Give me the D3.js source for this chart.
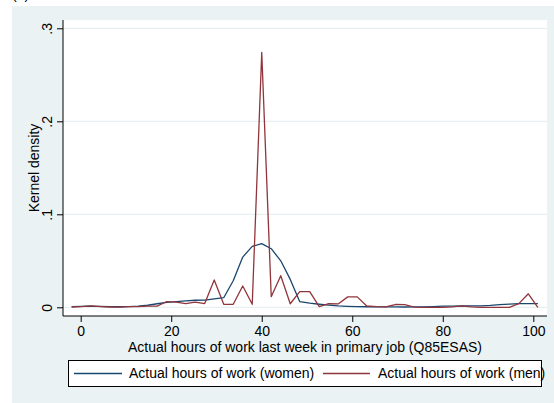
<!DOCTYPE html>
<html>
<head>
<meta charset="utf-8">
<script src="https://cdn.jsdelivr.net/npm/d3@7"></script>
<style>
  html, body { margin: 0; padding: 0; background: #ffffff; }
  svg { display: block; font-family: "Liberation Sans", Arial, sans-serif; }
</style>
</head>
<body>
<svg id="chart" width="554" height="403"></svg>
<script>
// Kernel density estimates of actual weekly hours, evaluated on a 50-point grid
const hours = [
  -2.0, 0.1, 2.2, 4.3, 6.4, 8.5, 10.6, 12.7, 14.8, 16.9,
  19.0, 21.1, 23.2, 25.3, 27.4, 29.5, 31.6, 33.7, 35.8, 37.9,
  40.0, 42.1, 44.2, 46.3, 48.4, 50.6, 52.7, 54.8, 56.9, 59.0,
  61.1, 63.2, 65.3, 67.4, 69.5, 71.6, 73.7, 75.8, 77.9, 80.0,
  82.1, 84.2, 86.3, 88.4, 90.5, 92.6, 94.7, 96.8, 98.9, 101.0
];
const densityWomen = [
  0.0007, 0.0009, 0.0012, 0.0010, 0.0007, 0.0006, 0.0008, 0.0012, 0.0022, 0.0038,
  0.0052, 0.0062, 0.0070, 0.0076, 0.0078, 0.0090, 0.0103, 0.0285, 0.0540, 0.0655,
  0.0685, 0.0630, 0.0500, 0.0300, 0.0060, 0.0045, 0.0033, 0.0023, 0.0015, 0.0010,
  0.0007, 0.0006, 0.0005, 0.0005, 0.0004, 0.0003, 0.0004, 0.0005, 0.0008, 0.0012,
  0.0013, 0.0014, 0.0015, 0.0016, 0.0020, 0.0028, 0.0035, 0.0040, 0.0040, 0.0040
];
const densityMen = [
  0.0003, 0.0008, 0.0015, 0.0008, 0.0003, 0.0002, 0.0008, 0.0008, 0.0012, 0.0012,
  0.0062, 0.0055, 0.0040, 0.0055, 0.0040, 0.0294, 0.0032, 0.0032, 0.0229, 0.0032,
  0.2740, 0.0114, 0.0340, 0.0038, 0.0168, 0.0168, 0.0007, 0.0040, 0.0036, 0.0112,
  0.0112, 0.0014, 0.0008, 0.0005, 0.0030, 0.0028, 0.0002, 0.0000, 0.0000, 0.0000,
  0.0005, 0.0016, 0.0004, 0.0000, 0.0000, 0.0000, 0.0000, 0.0040, 0.0145, 0.0000
];
const xTicks = [0, 20, 40, 60, 80, 100];
const yTicks = [0, 0.1, 0.2, 0.3];
const yTickLabels = ["0", ".1", ".2", ".3"];
const seriesNames = ["Actual hours of work (women)", "Actual hours of work (men)"];
const seriesColors = ["#1a476f", "#90353b"];

const svg = d3.select("#chart");
const W = 554, H = 403;
const FS = 14;
const plot = { left: 63, right: 547, top: 20, bottom: 316 };

// outer graph region
svg.append("rect").attr("x", 12).attr("y", 6).attr("width", W - 12).attr("height", H - 6)
  .attr("fill", "#eaf2f3");
svg.append("text").attr("x", 12).attr("y", -1).attr("font-size", FS).attr("fill", "#000").text("(a)");

// plot region
svg.append("rect").attr("x", plot.left).attr("y", plot.top)
  .attr("width", plot.right - plot.left).attr("height", plot.bottom - plot.top)
  .attr("fill", "#ffffff");

const x = d3.scaleLinear().domain([0, 100]).range([80.7, 533.3]);
const y = d3.scaleLinear().domain([0, 0.3]).range([307.3, 28.3]);

// horizontal grid
svg.append("g").selectAll("line").data(yTicks).join("line")
  .attr("x1", plot.left).attr("x2", plot.right)
  .attr("y1", d => y(d)).attr("y2", d => y(d))
  .attr("stroke", "#e3ecee").attr("stroke-width", 1);

// y axis
const yAxis = d3.axisLeft(y).tickValues(yTicks).tickSize(6).tickPadding(6)
  .tickFormat((d, i) => yTickLabels[i]);
const gy = svg.append("g").attr("transform", `translate(${plot.left},0)`).call(yAxis);
gy.select(".domain").attr("d", `M0,${plot.top}V${plot.bottom}`).attr("stroke", "#000");
gy.selectAll(".tick line").attr("stroke", "#000");
gy.selectAll(".tick text")
  .attr("font-size", FS).attr("font-family", "Liberation Sans, Arial, sans-serif").attr("fill", "#000")
  .attr("text-anchor", "middle").attr("x", null).attr("dy", null)
  .attr("transform", "translate(-11,0) rotate(-90)");

// x axis
const xAxis = d3.axisBottom(x).tickValues(xTicks).tickSize(6).tickPadding(4)
  .tickFormat(d3.format("d"));
const gx = svg.append("g").attr("transform", `translate(0,${plot.bottom})`).call(xAxis);
gx.select(".domain").attr("d", `M${plot.left},0H${plot.right}`).attr("stroke", "#000");
gx.selectAll(".tick line").attr("stroke", "#000");
gx.selectAll(".tick text")
  .attr("font-size", FS).attr("font-family", "Liberation Sans, Arial, sans-serif").attr("fill", "#000")
  .attr("dy", null).attr("y", 19.5);

// axis titles
svg.append("text").attr("x", (plot.left + plot.right) / 2).attr("y", 351.5)
  .attr("text-anchor", "middle").attr("font-size", FS)
  .text("Actual hours of work last week in primary job (Q85ESAS)");
svg.append("text").attr("transform", `translate(39,${(plot.top + plot.bottom) / 2}) rotate(-90)`)
  .attr("text-anchor", "middle").attr("font-size", FS)
  .text("Kernel density");

// density curves
const line = d3.line().x(d => x(d[0])).y(d => y(d[1]));
[densityWomen, densityMen].forEach((vals, i) => {
  svg.append("path")
    .datum(hours.map((h, j) => [h, vals[j]]))
    .attr("d", line)
    .attr("fill", "none")
    .attr("stroke", seriesColors[i])
    .attr("stroke-width", 1.3)
    .attr("stroke-linejoin", "round");
});

// legend
const lg = svg.append("g");
lg.append("rect").attr("x", 68.5).attr("y", 360.5).attr("width", 473).attr("height", 26)
  .attr("fill", "#fff").attr("stroke", "#000").attr("stroke-width", 1);
const legendItems = [
  { x1: 74, x2: 122, tx: 129 },
  { x1: 323, x2: 370, tx: 378 }
];
legendItems.forEach((it, i) => {
  lg.append("line").attr("x1", it.x1).attr("x2", it.x2).attr("y1", 373.5).attr("y2", 373.5)
    .attr("stroke", seriesColors[i]).attr("stroke-width", 1.3);
  lg.append("text").attr("x", it.tx).attr("y", 378).attr("font-size", FS).text(seriesNames[i]);
});
</script>
</body>
</html>
